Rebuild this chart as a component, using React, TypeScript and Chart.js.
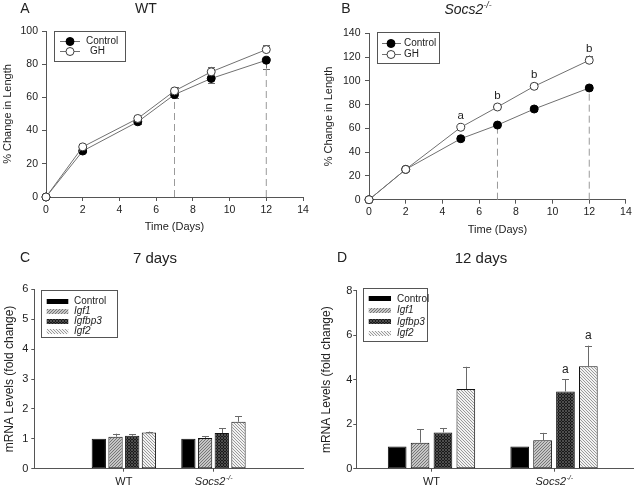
import React, { useEffect, useRef } from 'react';
import { Chart, registerables } from 'chart.js';

Chart.register(...registerables);

const FONT = '"Liberation Sans", Arial, Helvetica, sans-serif';
const INK = '#222222';
const AXIS = '#555555';
Chart.defaults.font.family = FONT;
Chart.defaults.color = INK;

// ---------- Panels A & B: % change in length ----------
const days = [0, 2, 5, 7, 9, 12];
const wtControl = [0, 27.7, 45.3, 61.7, 71.4, 82.4];
const wtControlErr = [0, 0.8, 1.5, 2, 3, 5];
const wtGH = [0, 30.2, 47.3, 63.9, 75.4, 88.8];
const wtGHErr = [0, 0.8, 1, 2.2, 3, 2.6];
const koControl = [0, 25.5, 51.3, 62.8, 76.3, 94.0];
const koControlErr = [0, 1, 1, 1, 1.5, 2];
const koGH = [0, 25.5, 60.9, 78.0, 95.4, 117.3];
const koGHErr = [0, 1, 1.5, 2, 2.5, 4];
const koGHLetters = ['', '', 'a', 'b', 'b', 'b'];
const wtGHLetters = ['', '', '', '', '', ''];
const dashedDays = [7, 12];
const seriesNames = ['Control', 'GH'];

// ---------- Panels C & D: mRNA levels ----------
const genes = ['Control', 'Igf1', 'Igfbp3', 'Igf2'];
const genotypes = ['WT', 'Socs2'];
const genotypePos = [1, 2];
const day7WT = [1.0, 1.07, 1.10, 1.21];
const day7WTErr = [0, 0.10, 0.06, 0.03];
const day7KO = [1.0, 1.03, 1.19, 1.57];
const day7KOErr = [0, 0.05, 0.16, 0.18];
const day7KOLetters = ['', '', '', ''];
const day12WT = [1.0, 1.17, 1.63, 3.58];
const day12WTErr = [0, 0.6, 0.2, 1.0];
const day12KO = [1.0, 1.28, 3.47, 4.6];
const day12KOErr = [0, 0.33, 0.55, 0.93];
const day12KOLetters = ['', '', 'a', 'a'];

function hatch(kind: string): CanvasPattern | string {
  if (kind === 'Control') return '#000000';
  const s = 3;
  const c = document.createElement('canvas');
  c.width = s;
  c.height = s;
  const g = c.getContext('2d') as CanvasRenderingContext2D;
  const diag = (dir: number) => {
    g.beginPath();
    for (let k = -1; k <= 1; k++) {
      if (dir > 0) {
        g.moveTo(k * s, s);
        g.lineTo(k * s + s, 0);
      } else {
        g.moveTo(k * s, 0);
        g.lineTo(k * s + s, s);
      }
    }
    g.stroke();
  };
  g.lineWidth = 1;
  if (kind === 'Igf1') {
    g.fillStyle = '#c6c6c6';
    g.fillRect(0, 0, s, s);
    g.strokeStyle = '#767676';
    diag(1);
  } else if (kind === 'Igfbp3') {
    g.fillStyle = '#1a1a1a';
    g.fillRect(0, 0, s, s);
    g.strokeStyle = '#4e4e4e';
    diag(1);
    diag(-1);
  } else {
    g.fillStyle = '#f2f2f2';
    g.fillRect(0, 0, s, s);
    g.strokeStyle = '#9a9a9a';
    diag(-1);
  }
  return g.createPattern(c, 'repeat') as CanvasPattern;
}

type LineLegend = { box: number[]; rows: number[]; line: number[]; marker: number; textX: number[] };

function lineExtras(p: { controlErr: number[]; ghErr: number[]; letters: string[]; legend: LineLegend }) {
  return {
    id: 'lineExtras',
    beforeDatasetsDraw(chart: any) {
      const { ctx } = chart;
      const xs = chart.scales.x;
      const ys = chart.scales.y;
      const sets = [
        { ds: 0, err: p.ghErr, dir: 1 },
        { ds: 1, err: p.controlErr, dir: -1 },
      ];
      ctx.save();
      ctx.strokeStyle = '#6a6a6a';
      ctx.lineWidth = 1;
      sets.forEach((s) => {
        const data = chart.data.datasets[s.ds].data as any[];
        data.forEach((pt, i) => {
          const e = s.err[i];
          if (!e) return;
          const px = Math.round(xs.getPixelForValue(pt.x)) + 0.5;
          const y0 = ys.getPixelForValue(pt.y);
          const y1 = ys.getPixelForValue(pt.y + s.dir * e);
          ctx.beginPath();
          ctx.moveTo(px, y0);
          ctx.lineTo(px, y1);
          ctx.moveTo(px - 3.5, Math.round(y1) + 0.5);
          ctx.lineTo(px + 3.5, Math.round(y1) + 0.5);
          ctx.stroke();
        });
      });
      ctx.restore();
    },
    afterDatasetsDraw(chart: any) {
      const { ctx } = chart;
      const xs = chart.scales.x;
      const ys = chart.scales.y;
      const data = chart.data.datasets[0].data as any[];
      ctx.save();
      ctx.fillStyle = INK;
      ctx.font = `11.5px ${FONT}`;
      ctx.textAlign = 'center';
      ctx.textBaseline = 'middle';
      data.forEach((pt, i) => {
        const t = p.letters[i];
        if (!t) return;
        ctx.fillText(t, xs.getPixelForValue(pt.x), ys.getPixelForValue(pt.y) - 11);
      });
      // legend
      const L = p.legend;
      ctx.strokeStyle = '#555';
      ctx.lineWidth = 1;
      ctx.strokeRect(Math.round(L.box[0]) + 0.5, Math.round(L.box[1]) + 0.5, Math.round(L.box[2]), Math.round(L.box[3]));
      const order = [1, 0];
      seriesNames.forEach((name, r) => {
        const ds = chart.data.datasets[order[r]];
        const y = L.rows[r];
        ctx.strokeStyle = '#707070';
        ctx.beginPath();
        ctx.moveTo(L.line[0], Math.round(y) + 0.5);
        ctx.lineTo(L.line[1], Math.round(y) + 0.5);
        ctx.stroke();
        ctx.beginPath();
        ctx.arc(L.marker, Math.round(y) + 0.5, 4, 0, Math.PI * 2);
        ctx.fillStyle = ds.pointBackgroundColor;
        ctx.fill();
        ctx.strokeStyle = ds.pointBorderColor;
        ctx.stroke();
        ctx.fillStyle = INK;
        ctx.font = `10px ${FONT}`;
        ctx.textAlign = 'left';
        ctx.fillText(name, L.textX[r], y + 0.5);
      });
      ctx.restore();
    },
  };
}

function makeLineChart(
  canvas: HTMLCanvasElement,
  p: {
    control: number[];
    controlErr: number[];
    gh: number[];
    ghErr: number[];
    letters: string[];
    yMax: number;
    padTop: number;
    padRight: number;
    yAxisW: number;
    xAxisH: number;
    yTitlePad: number;
    xTitlePad: number;
    yTickPad: number;
    xTickPad: number;
    legend: LineLegend;
  }
) {
  const pts = (arr: number[]) => days.map((d, i) => ({ x: d, y: arr[i] }));
  const dashed = dashedDays.map((d) => ({
    label: 'guide',
    data: [
      { x: d, y: 0 },
      { x: d, y: p.control[days.indexOf(d)] },
    ],
    borderColor: '#9a9a9a',
    borderWidth: 1,
    borderDash: [7, 4],
    pointRadius: 0,
    clip: false,
  }));
  return new Chart(canvas, {
    type: 'line',
    data: {
      datasets: [
        {
          label: 'GH',
          data: pts(p.gh),
          borderColor: '#707070',
          borderWidth: 1,
          pointRadius: 4,
          pointHoverRadius: 4,
          pointBackgroundColor: '#ffffff',
          pointBorderColor: '#3a3a3a',
          pointBorderWidth: 1,
          clip: false,
        },
        {
          label: 'Control',
          data: pts(p.control),
          borderColor: '#707070',
          borderWidth: 1,
          pointRadius: 4,
          pointHoverRadius: 4,
          pointBackgroundColor: '#000000',
          pointBorderColor: '#000000',
          pointBorderWidth: 1,
          clip: false,
        },
        ...dashed,
      ] as any,
    },
    options: {
      responsive: false,
      animation: false,
      events: [],
      layout: { padding: { left: 0, top: p.padTop, right: p.padRight, bottom: 0 } },
      plugins: { legend: { display: false }, tooltip: { enabled: false } },
      scales: {
        x: {
          type: 'linear',
          min: 0,
          max: 14,
          ticks: { stepSize: 2, padding: p.xTickPad, font: { size: 10.5 }, color: INK },
          grid: { drawOnChartArea: false, tickLength: 4, color: AXIS },
          border: { color: AXIS },
          title: { display: true, text: 'Time (Days)', font: { size: 11 }, color: INK, padding: { top: 0, bottom: p.xTitlePad } },
          afterFit: (s: any) => {
            s.height = p.xAxisH;
          },
        },
        y: {
          type: 'linear',
          min: 0,
          max: p.yMax,
          ticks: { stepSize: 20, padding: p.yTickPad, font: { size: 10.5 }, color: INK },
          grid: { drawOnChartArea: false, tickLength: 4, color: AXIS },
          border: { color: AXIS },
          title: { display: true, text: '% Change in Length', font: { size: 11 }, color: INK, padding: { top: p.yTitlePad, bottom: 0 } },
          afterFit: (s: any) => {
            s.width = p.yAxisW;
          },
        },
      },
    } as any,
    plugins: [lineExtras({ controlErr: p.controlErr, ghErr: p.ghErr, letters: p.letters, legend: p.legend })],
  });
}

type BarLegend = { box: number[]; rows: number[]; swatch: number[]; swatchH: number; textX: number };

function barExtras(p: { errs: number[][]; letters: string[]; legend: BarLegend; tickPad: number; tickLen: number }) {
  return {
    id: 'barExtras',
    afterDraw(chart: any) {
      const { ctx } = chart;
      const xs = chart.scales.x;
      const ys = chart.scales.y;
      ctx.save();
      // error bars and letters
      chart.data.datasets.forEach((ds: any, i: number) => {
        const meta = chart.getDatasetMeta(i);
        meta.data.forEach((el: any, j: number) => {
          const v = ds.data[j].y;
          const e = p.errs[i][j];
          const px = Math.round(el.x) + 0.5;
          let top = ys.getPixelForValue(v);
          if (e) {
            top = ys.getPixelForValue(v + e);
            ctx.strokeStyle = '#6a6a6a';
            ctx.lineWidth = 1;
            ctx.beginPath();
            ctx.moveTo(px, ys.getPixelForValue(v));
            ctx.lineTo(px, top);
            ctx.moveTo(px - 3.5, Math.round(top) + 0.5);
            ctx.lineTo(px + 3.5, Math.round(top) + 0.5);
            ctx.stroke();
          }
          if (j === 1 && p.letters[i]) {
            ctx.fillStyle = INK;
            ctx.font = `12px ${FONT}`;
            ctx.textAlign = 'center';
            ctx.textBaseline = 'middle';
            ctx.fillText(p.letters[i], el.x, top - 10);
          }
        });
      });
      // italic genotype label with superscript
      const lx = xs.getPixelForValue(genotypePos[1]);
      const ly = xs.top + p.tickLen + p.tickPad + 6.6;
      ctx.fillStyle = INK;
      ctx.textBaseline = 'middle';
      ctx.textAlign = 'left';
      ctx.font = `italic 11px ${FONT}`;
      const w1 = ctx.measureText(genotypes[1]).width;
      ctx.font = `italic 7px ${FONT}`;
      const w2 = ctx.measureText('-/-').width;
      const x0 = lx - (w1 + w2) / 2;
      ctx.font = `italic 11px ${FONT}`;
      ctx.fillText(genotypes[1], x0, ly);
      ctx.font = `italic 7px ${FONT}`;
      ctx.fillText('-/-', x0 + w1 + 0.5, ly - 4);
      // legend
      const L = p.legend;
      ctx.strokeStyle = '#555';
      ctx.lineWidth = 1;
      ctx.strokeRect(Math.round(L.box[0]) + 0.5, Math.round(L.box[1]) + 0.5, Math.round(L.box[2]), Math.round(L.box[3]));
      genes.forEach((g, i) => {
        const y = L.rows[i];
        ctx.fillStyle = chart.data.datasets[i].backgroundColor;
        ctx.fillRect(L.swatch[0], Math.round(y - L.swatchH / 2), L.swatch[1] - L.swatch[0], L.swatchH);
        ctx.fillStyle = INK;
        ctx.font = `${i === 0 ? '' : 'italic '}10px ${FONT}`;
        ctx.textAlign = 'left';
        ctx.textBaseline = 'middle';
        ctx.fillText(g, L.textX, y + 0.5);
      });
      ctx.restore();
    },
  };
}

function makeBarChart(
  canvas: HTMLCanvasElement,
  p: {
    wt: number[];
    wtErr: number[];
    ko: number[];
    koErr: number[];
    letters: string[];
    yMax: number;
    yStep: number;
    xMin: number;
    xMax: number;
    padTop: number;
    padRight: number;
    yAxisW: number;
    xAxisH: number;
    yTitlePad: number;
    yTickPad: number;
    xTickPad: number;
    catPct: number;
    barPct: number;
    legend: BarLegend;
  }
) {
  const datasets = genes.map((g, i) => ({
    label: g,
    data: [
      { x: genotypePos[0], y: p.wt[i] },
      { x: genotypePos[1], y: p.ko[i] },
    ],
    backgroundColor: hatch(g),
    borderColor: '#111111',
    borderWidth: 1,
    borderSkipped: false,
    categoryPercentage: p.catPct,
    barPercentage: p.barPct,
  }));
  const errs = genes.map((_, i) => [p.wtErr[i], p.koErr[i]]);
  return new Chart(canvas, {
    type: 'bar',
    data: { datasets } as any,
    options: {
      responsive: false,
      animation: false,
      events: [],
      layout: { padding: { left: 0, top: p.padTop, right: p.padRight, bottom: 0 } },
      plugins: { legend: { display: false }, tooltip: { enabled: false } },
      scales: {
        x: {
          type: 'linear',
          min: p.xMin,
          max: p.xMax,
          offset: false,
          afterBuildTicks: (s: any) => {
            s.ticks = genotypePos.map((v) => ({ value: v }));
          },
          ticks: {
            padding: p.xTickPad,
            font: { size: 11 },
            color: INK,
            callback: (v: any) => (v === genotypePos[0] ? genotypes[0] : ''),
          },
          grid: { offset: false, drawOnChartArea: false, tickLength: 3, color: AXIS },
          border: { color: AXIS },
          afterFit: (s: any) => {
            s.height = p.xAxisH;
          },
        },
        y: {
          type: 'linear',
          min: 0,
          max: p.yMax,
          ticks: { stepSize: p.yStep, padding: p.yTickPad, font: { size: 11 }, color: INK },
          grid: { drawOnChartArea: false, tickLength: 3, color: AXIS },
          border: { color: AXIS },
          title: { display: true, text: 'mRNA Levels (fold change)', font: { size: 12 }, color: INK, padding: { top: p.yTitlePad, bottom: 0 } },
          afterFit: (s: any) => {
            s.width = p.yAxisW;
          },
        },
      },
    } as any,
    plugins: [barExtras({ errs, letters: p.letters, legend: p.legend, tickPad: p.xTickPad, tickLen: 3 })],
  });
}

const Label = (props: { x: number; y: number; size: number; children: React.ReactNode; italic?: boolean }) => (
  <div
    style={{
      position: 'absolute',
      left: props.x,
      top: props.y,
      transform: 'translate(-50%, -50%)',
      fontSize: props.size,
      lineHeight: 1,
      whiteSpace: 'nowrap',
      fontStyle: props.italic ? 'italic' : 'normal',
      color: INK,
      fontFamily: FONT,
    }}
  >
    {props.children}
  </div>
);

export default function App() {
  const aRef = useRef<HTMLCanvasElement>(null);
  const bRef = useRef<HTMLCanvasElement>(null);
  const cRef = useRef<HTMLCanvasElement>(null);
  const dRef = useRef<HTMLCanvasElement>(null);

  useEffect(() => {
    const charts: Chart[] = [];
    charts.push(
      makeLineChart(aRef.current as HTMLCanvasElement, {
        control: wtControl,
        controlErr: wtControlErr,
        gh: wtGH,
        ghErr: wtGHErr,
        letters: wtGHLetters,
        yMax: 100,
        padTop: 31,
        padRight: 14,
        yAxisW: 46,
        xAxisH: 43,
        yTitlePad: 1.4,
        xTitlePad: 6.4,
        yTickPad: 4,
        xTickPad: 3,
        legend: { box: [54, 31, 71, 30], rows: [41, 51], line: [60, 80], marker: 70, textX: [86, 90] },
      })
    );
    charts.push(
      makeLineChart(bRef.current as HTMLCanvasElement, {
        control: koControl,
        controlErr: koControlErr,
        gh: koGH,
        ghErr: koGHErr,
        letters: koGHLetters,
        yMax: 140,
        padTop: 33.3,
        padRight: 6,
        yAxisW: 52,
        xAxisH: 40.3,
        yTitlePad: 5.4,
        xTitlePad: 3.4,
        yTickPad: 4.5,
        xTickPad: 2.2,
        legend: { box: [60, 32, 62, 31], rows: [43, 54], line: [65, 84], marker: 74, textX: [87, 87] },
      })
    );
    charts.push(
      makeBarChart(cRef.current as HTMLCanvasElement, {
        wt: day7WT,
        wtErr: day7WTErr,
        ko: day7KO,
        koErr: day7KOErr,
        letters: day7KOLetters,
        yMax: 6,
        yStep: 1,
        xMin: 0,
        xMax: 3,
        padTop: 49.3,
        padRight: 14,
        yAxisW: 34.3,
        xAxisH: 21.3,
        yTitlePad: 2.8,
        yTickPad: 3,
        xTickPad: 3.7,
        catPct: 0.746,
        barPct: 0.856,
        legend: { box: [40.7, 50, 76, 46.7], rows: [61, 71, 81, 91], swatch: [46.7, 68.3], swatchH: 5, textX: 74 },
      })
    );
    charts.push(
      makeBarChart(dRef.current as HTMLCanvasElement, {
        wt: day12WT,
        wtErr: day12WTErr,
        ko: day12KO,
        koErr: day12KOErr,
        letters: day12KOLetters,
        yMax: 8,
        yStep: 2,
        xMin: 0.3862,
        xMax: 2.6528,
        padTop: 50.7,
        padRight: 0,
        yAxisW: 39.3,
        xAxisH: 21.3,
        yTitlePad: 2.8,
        yTickPad: 1,
        xTickPad: 3.7,
        catPct: 0.747,
        barPct: 0.817,
        legend: { box: [45.7, 47.7, 64.3, 53], rows: [58.3, 70, 81.3, 93], swatch: [51.7, 74], swatchH: 5, textX: 80 },
      })
    );
    return () => charts.forEach((c) => c.destroy());
  }, []);

  const sup = { fontSize: '0.62em', position: 'relative' as const, top: '-0.6em' };

  return (
    <div
      style={{
        position: 'absolute',
        left: 0,
        top: 0,
        width: 634,
        height: 490,
        overflow: 'hidden',
        background: '#ffffff',
        fontFamily: FONT,
      }}
    >
      <canvas ref={aRef} width={317} height={240} style={{ position: 'absolute', left: 0, top: 0 }} />
      <canvas ref={bRef} width={317} height={240} style={{ position: 'absolute', left: 317, top: 0 }} />
      <canvas ref={cRef} width={317} height={250} style={{ position: 'absolute', left: 0, top: 240 }} />
      <canvas ref={dRef} width={317} height={250} style={{ position: 'absolute', left: 317, top: 240 }} />
      <Label x={25} y={7.5} size={14}>A</Label>
      <Label x={146} y={7.5} size={14}>WT</Label>
      <Label x={346} y={7.5} size={14}>B</Label>
      <Label x={468} y={8.5} size={14} italic>
        Socs2<span style={sup}>-/-</span>
      </Label>
      <Label x={25} y={256.5} size={14}>C</Label>
      <Label x={155} y={256.5} size={15}>7 days</Label>
      <Label x={342} y={256.5} size={14}>D</Label>
      <Label x={481} y={256.5} size={15}>12 days</Label>
    </div>
  );
}
